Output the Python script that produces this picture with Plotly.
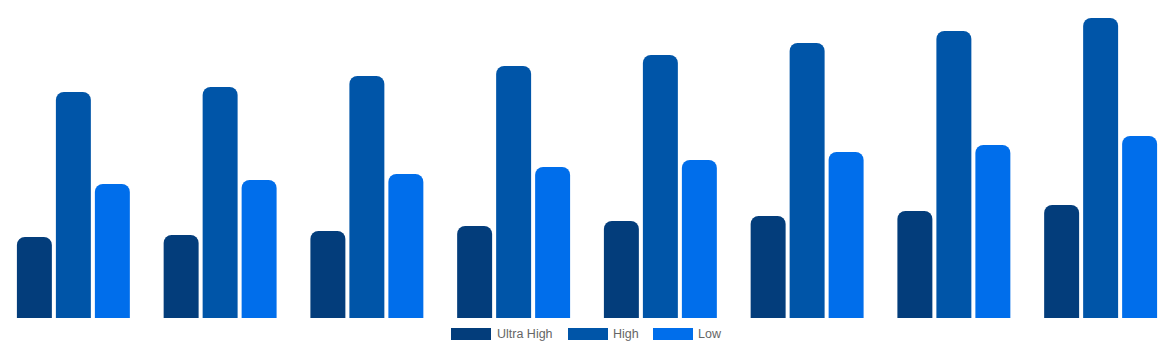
import plotly.graph_objects as go

categories = ["1", "2", "3", "4", "5", "6", "7", "8"]
ultra_high = [81, 83, 87, 92, 97, 102, 107, 113]
high = [226, 231, 242, 252, 263, 275, 287, 300]
low = [134, 138, 144, 151, 158, 166, 173, 182]

series_names = ["Ultra High", "High", "Low"]
colors = ["#033d7b", "#0055a8", "#006eeb"]

W, H = 1174, 350
PLOT_BOTTOM = 318

fig = go.Figure()
for name, vals, col in zip(series_names, [ultra_high, high, low], colors):
    fig.add_trace(go.Bar(x=categories, y=vals, name=name, marker=dict(color=col, line=dict(width=0)),
                         showlegend=False, hoverinfo="x+y+name"))

# custom legend (wide boxes like the reference)
def px_x(px):
    return px / W

def px_y(py):
    return (PLOT_BOTTOM - py) / PLOT_BOTTOM

legend_boxes = [(451, 491, 495), (568, 608, 611), (653, 693, 696)]
shapes = []
annotations = []
for (x0, x1, tx), name, col in zip(legend_boxes, series_names, colors):
    shapes.append(dict(type="rect", xref="paper", yref="paper",
                       x0=px_x(x0), x1=px_x(x1), y0=px_y(340), y1=px_y(328),
                       fillcolor=col, line=dict(width=0)))
    annotations.append(dict(text=name, xref="paper", yref="paper", x=px_x(tx), y=px_y(333.5),
                            xanchor="left", yanchor="middle", showarrow=False,
                            font=dict(family="Liberation Sans, Arial, sans-serif", size=12.5, color="#666666")))

fig.update_layout(
    width=W, height=H,
    margin=dict(l=0, r=0, t=0, b=H - PLOT_BOTTOM),
    barmode="group", bargap=0.203, bargroupgap=0.103,
    barcornerradius=8,
    plot_bgcolor="white", paper_bgcolor="white",
    xaxis=dict(visible=False),
    yaxis=dict(visible=False, range=[0, PLOT_BOTTOM]),
    shapes=shapes, annotations=annotations,
    showlegend=False,
)

fig.write_html("out.html")
